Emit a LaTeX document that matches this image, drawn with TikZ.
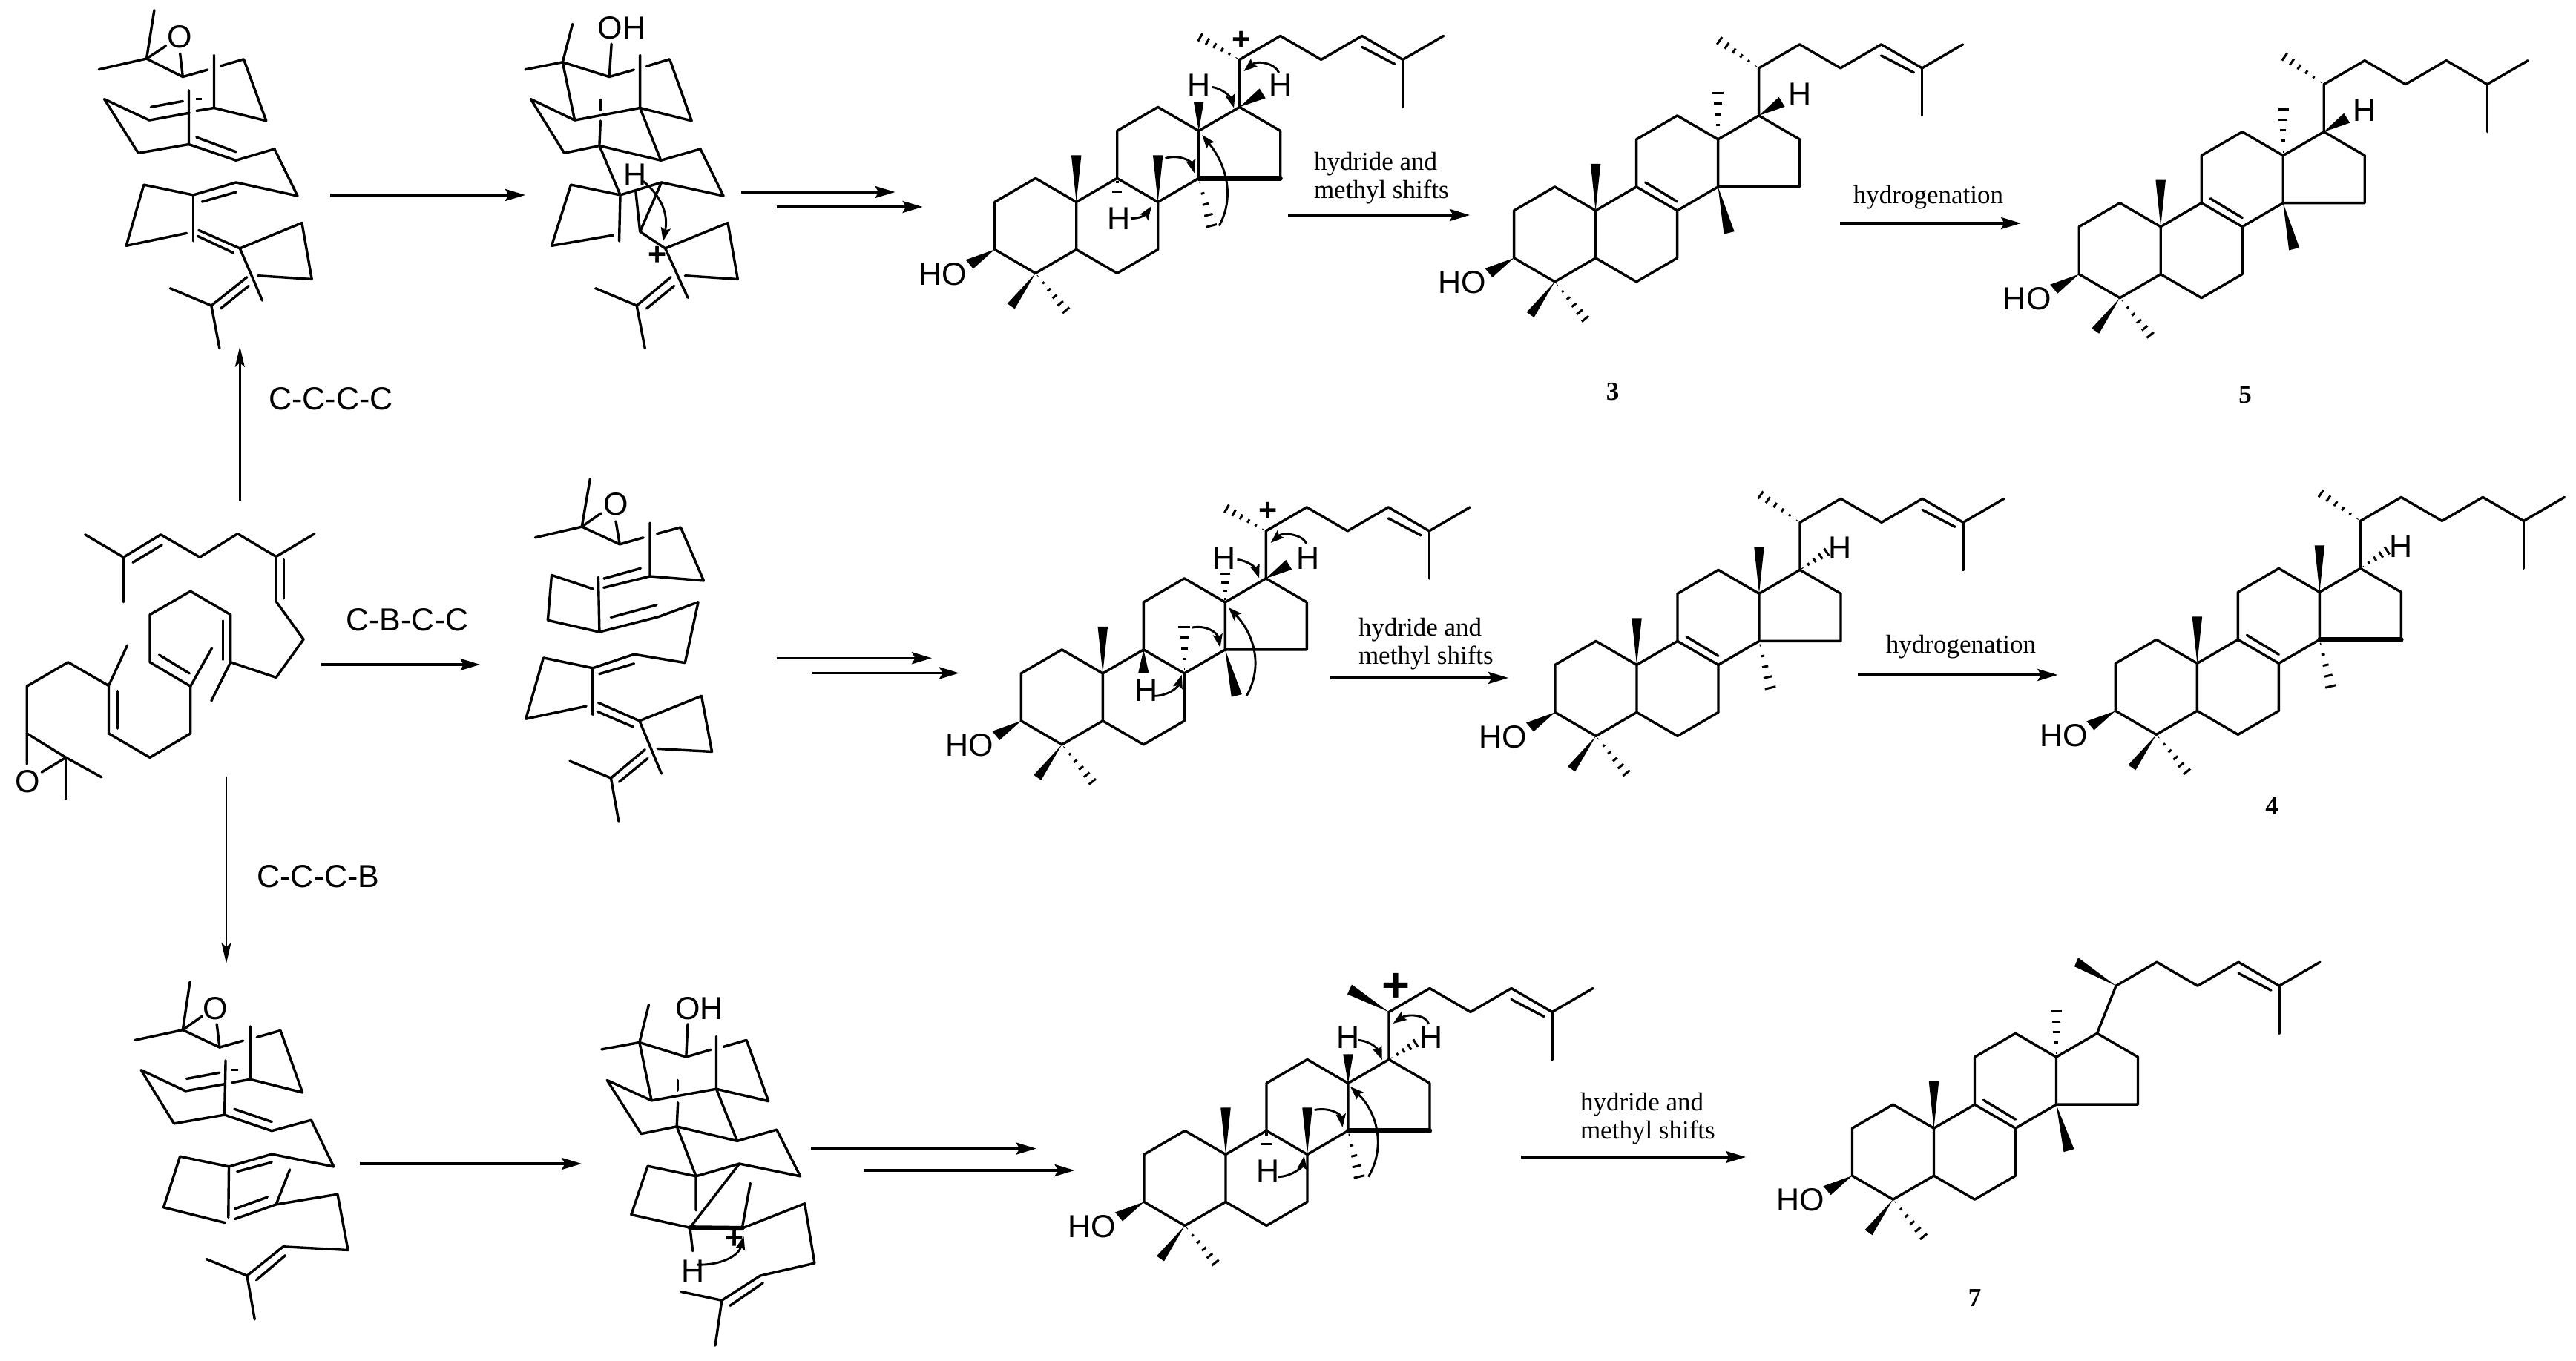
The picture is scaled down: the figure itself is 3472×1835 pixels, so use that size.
\documentclass[tikz,border=0pt]{standalone}
\usepackage{fontspec}
\setmainfont{Liberation Serif}
\setsansfont{Liberation Sans}
\usetikzlibrary{calc,arrows.meta}
\tikzset{
  bond/.style={line width=0.68pt,line cap=round,line join=round},
  boldbond/.style={line width=1.25pt,line cap=round},
  tick/.style={line width=0.6pt},
  rxn/.style={line width=0.68pt,-{Stealth[length=5.4pt,width=3.2pt,inset=0.9pt]}},
  rxnthin/.style={line width=0.4pt,-{Stealth[length=5.6pt,width=2.6pt,inset=1.2pt]}},
  curvearrow/.style={line width=0.58pt,-{Stealth[length=3.6pt,width=2.6pt,inset=0.6pt]}},
  atom/.style={font=\sffamily\fontsize{8.6}{9}\selectfont,inner sep=0pt},
  plussign/.style={font=\sffamily\bfseries\fontsize{8.6}{9}\selectfont,inner sep=0pt},
  bigplus/.style={font=\sffamily\bfseries\fontsize{13}{13}\selectfont,inner sep=0pt},
  cond/.style={font=\rmfamily\fontsize{7}{7.5}\selectfont,inner sep=0pt,align=left},
  cmpd/.style={font=\rmfamily\bfseries\fontsize{7}{8}\selectfont,inner sep=0pt},
  za/.style={x=0.14796pt,y=-0.07908pt},
  zb/.style={x=0.14695pt,y=-0.07908pt},
  zc/.style={x=0.14796pt,y=-0.07843pt},
  zd/.style={x=0.14695pt,y=-0.07843pt},
}
% filled wedge: apex at #1, wide end at #1+(#2,#3), half width #4
\newcommand{\wdg}[4]{%
  \coordinate (wdgtip) at ($(#1)+(#2,#3)$);
  \fill ($(#1)$) -- ($(wdgtip)!#4!90:(#1)$) -- ($(wdgtip)!#4!-90:(#1)$) -- cycle;}
% wedge with explicit corners
\newcommand{\wdgc}[5]{%
  \fill (#1) -- ($(#1)+(#2,#3)$) -- ($(#1)+(#4,#5)$) -- cycle;}
% hashed bond: from #1 to #1+(#2,#3), half width #4 (pt), #5 ticks
\newcommand{\hsh}[5]{%
  \coordinate (hshtip) at ($(#1)+(#2,#3)$);
  \foreach \i in {1,...,#5} {
    \pgfmathsetmacro{\tt}{(\i-0.6)/(#5-0.6)}
    \pgfmathsetmacro{\ww}{\tt*#4}
    \draw[tick] ($(#1)!\tt!(hshtip)!\ww pt!90:(#1)$) -- ($(#1)!\tt!(hshtip)!\ww pt!-90:(#1)$);
  }}
\newcommand{\steroid}[4]{%
  \begin{scope}[shift={(#2,#3)}]
  \coordinate (#1c10) at (0,0);
  \coordinate (#1c5) at (0,64);
  \coordinate (#1c4) at (-55,96);
  \coordinate (#1c3) at (-110,64);
  \coordinate (#1c2) at (-110,0);
  \coordinate (#1c1) at (-55,-32);
  \coordinate (#1c6) at (55,96);
  \coordinate (#1c7) at (110,64);
  \coordinate (#1c8) at (110,0);
  \coordinate (#1c9) at (55,-32);
  \coordinate (#1c11) at (55,-96);
  \coordinate (#1c12) at (110,-128);
  \coordinate (#1c13) at (165,-96);
  \coordinate (#1c14) at (165,-32);
  \coordinate (#1c15) at (275,-32);
  \coordinate (#1c16) at (275,-96);
  \coordinate (#1c17) at (220,-128);
  \coordinate (#1c20) at (220+#4,-192);
  \coordinate (#1c22) at (275+#4,-224);
  \coordinate (#1c23) at (330+#4,-192);
  \coordinate (#1c24) at (385+#4,-224);
  \coordinate (#1c25) at (440+#4,-192);
  \coordinate (#1c26) at (495+#4,-224);
  \coordinate (#1c27) at (440+#4,-128);
  \end{scope}
  \draw[bond] (#1c2)--(#1c1)--(#1c10)--(#1c5)--(#1c4)--(#1c3)--cycle;
  \draw[bond] (#1c5)--(#1c6)--(#1c7)--(#1c8)--(#1c9)--(#1c10);
  \draw[bond] (#1c9)--(#1c11)--(#1c12)--(#1c13)--(#1c14)--(#1c8);
  \draw[bond] (#1c14)--(#1c15)--(#1c16)--(#1c17)--(#1c13);
  \draw[bond] (#1c17)--(#1c20)--(#1c22)--(#1c23)--(#1c24)--(#1c25)--(#1c26);
  \draw[bond] (#1c25)--(#1c27);
  \node[atom] (#1ho) at ($(#1c3)+(-70,33)$) {HO};
  \wdgc{#1c3}{-39}{14}{-29}{26}
  \wdgc{#1c4}{-38}{41}{-28}{48}
  \hsh{#1c4}{41}{50}{1.2}{6}
}
\newcommand{\enechain}[1]{\draw[bond] ($(#1c24)+(0,15)$)--($(#1c25)+(-11,6)$);}
\newcommand{\dbeight}[1]{\draw[bond] ($(#1c9)+(12,-6)$)--($(#1c8)+(0,-12)$);}
\newcommand{\upwedge}[2]{\wdg{#1#2}{0}{-63}{1.35pt}}
\newcommand{\curv}[5]{%
  \coordinate (#1s) at #2; \coordinate (#1e) at #5;
  \draw[curvearrow] (#1s) .. controls #3 and #4 .. (#1e);}
\newcommand{\rxnarrow}[3]{%
  \coordinate (#1s) at #2; \coordinate (#1e) at #3;
  \draw[rxn] (#1s) -- (#1e);}
\begin{document}
\begin{tikzpicture}[x=0.2pt,y=-0.2pt]
\useasboundingbox (0,0) rectangle (3472,1835);
\fill[white] (0,0) rectangle (3472,1835);

%% ---------- steroids, top row ----------
\steroid{a}{1450.7}{272.4}{0}
\enechain{a}
\upwedge{a}{c10} \upwedge{a}{c8}
\wdg{ac13}{0}{-39}{1.35pt}
\draw[boldbond] (ac14)--(ac15);
\wdgc{ac17}{35}{-12}{27}{-25}
\hsh{ac20}{-53}{-30}{1.2}{6}
\hsh{ac9}{0}{18}{1.35}{2}
\hsh{ac14}{17}{64}{1.5}{5}
\node[atom] (ah1) at (1616.4,114.7) {H};
\node[atom] (ah2) at (1726,114.7) {H};
\node[atom] (ah3) at (1507.7,294.6) {H};
\node[plussign] (aplus) at (1672.7,55.4) {+};
\begin{scope}[shift={(1160,0)},za]
\curv{aca}{(640,297)}{(662,303)}{(675,335)}{(680,368)}
\curv{acb}{(762,248)}{(755,215)}{(722,205)}{(698,243)}
\curv{acc}{(492,745)}{(515,745)}{(522,725)}{(530,703)}
\curv{acd}{(555,540)}{(580,525)}{(602,550)}{(608,590)}
\curv{ace}{(653,770)}{(680,680)}{(670,570)}{(622,460)}
\end{scope}

\steroid{b}{2150.6}{283.9}{0}
\enechain{b} \dbeight{b}
\upwedge{b}{c10}
\hsh{bc13}{0}{-62}{1.5}{5}
\wdg{bc14}{15}{62}{1.45pt}
\wdgc{bc17}{35}{-12}{27}{-25}
\hsh{bc20}{-53}{-37}{1.2}{6}
\node[atom] (bh) at (2426.5,126.5) {H};
\node[cmpd] (lab3) at (2173.5,527.9) {3};

\steroid{c}{2912.2}{305.7}{0}
\upwedge{c}{c10}
\hsh{cc13}{0}{-62}{1.5}{5}
\wdg{cc14}{15}{62}{1.45pt}
\dbeight{c}
\wdgc{cc17}{35}{-12}{27}{-25}
\hsh{cc20}{-53}{-37}{1.2}{6}
\node[atom] (ch) at (3187,149) {H};
\node[cmpd] (lab5) at (3026,531.8) {5};

%% ---------- steroids, middle row ----------
\steroid{d}{1486.3}{907.9}{0}
\enechain{d}
\upwedge{d}{c10}
\wdg{dc9}{0}{31}{1.4pt}
\hsh{dc8}{0}{-62}{1.6}{5}
\hsh{dc13}{0}{-38}{1.4}{4}
\wdg{dc14}{15.5}{62}{1.45pt}
\wdgc{dc17}{35}{-12}{27}{-25}
\hsh{dc20}{-53}{-30}{1.2}{6}
\node[atom] (dh1) at (1650.5,752.5) {H};
\node[atom] (dh2) at (1763,752.5) {H};
\node[atom] (dh3) at (1544.7,930.4) {H};
\node[plussign] (dplus) at (1709,690.4) {+};
\begin{scope}[shift={(1160,620)},za]
\curv{dca}{(686,340)}{(708,345)}{(720,370)}{(726,403)}
\curv{dcb}{(812,285)}{(805,255)}{(770,245)}{(747,283)}
\curv{dcc}{(535,805)}{(560,805)}{(578,775)}{(585,733)}
\curv{dcd}{(603,572)}{(630,562)}{(650,590)}{(655,640)}
\curv{dce}{(703,805)}{(735,700)}{(715,590)}{(670,503)}
\end{scope}

\steroid{e}{2206}{896.4}{0}
\enechain{e} \dbeight{e}
\upwedge{e}{c10}
\wdg{ec13}{0}{-63}{1.35pt}
\hsh{ec14}{15}{63}{1.5}{5}
\hsh{ec17}{36}{-24}{1.2}{5}
\hsh{ec20}{-53}{-37}{1.2}{6}
\node[atom] (eh) at (2480,738.6) {H};

\steroid{f}{2961.4}{894.4}{0}
\dbeight{f}
\upwedge{f}{c10}
\wdg{fc13}{0}{-63}{1.35pt}
\draw[boldbond] (fc14)--(fc15);
\hsh{fc14}{15}{63}{1.5}{5}
\hsh{fc17}{36}{-24}{1.2}{5}
\hsh{fc20}{-53}{-37}{1.2}{6}
\node[atom] (fh) at (3236,737) {H};
\node[cmpd] (lab4) at (3062,1087) {4};

%% ---------- steroids, bottom row ----------
\steroid{g}{1652}{1556.5}{0}
\enechain{g}
\upwedge{g}{c10} \upwedge{g}{c8}
\wdg{gc13}{0}{-39}{1.35pt}
\draw[boldbond] (gc14)--(gc15);
\hsh{gc9}{0}{18}{1.35}{2}
\hsh{gc14}{15}{62}{1.5}{5}
\hsh{gc17}{36}{-22}{1.2}{5}
\wdgc{gc20}{-56}{-24}{-50}{-37}
\node[atom] (gh1) at (1817,1399.2) {H};
\node[atom] (gh2) at (1929.4,1398.4) {H};
\node[atom] (gh3) at (1709,1579) {H};
\node[bigplus] (gplus) at (1881.3,1331) {+};
\begin{scope}[shift={(1160,1220)},zc]
\curv{gca}{(907,465)}{(930,470)}{(942,495)}{(950,533)}
\curv{gcb}{(1035,410)}{(1030,375)}{(995,375)}{(970,408)}
\curv{gcc}{(760,935)}{(785,935)}{(805,900)}{(808,863)}
\curv{gcd}{(827,705)}{(855,695)}{(875,720)}{(878,765)}
\curv{gce}{(925,935)}{(958,830)}{(940,710)}{(892,625)}
\end{scope}

\steroid{h}{2606.5}{1521.2}{25.5}
\enechain{h} \dbeight{h}
\upwedge{h}{c10}
\hsh{hc13}{0}{-62}{1.5}{5}
\wdg{hc14}{17}{62}{1.45pt}
\wdgc{hc20}{-56}{-26}{-51}{-38}
\node[cmpd] (lab7) at (2661.6,1750) {7};

%% ---------- folded chains, top left ----------
\begin{scope}[za]
\draw[bond] (281,35)--(267,200)--(333,262)--(378,238);
\draw[bond] (180,237)--(267,200)--(302,157);
\draw[bond] (333,262)--(328,182);
\node[atom] (to) at (327,125) {O};
\draw[bond] (402,225)--(444,202)--(485,412)--(390,368)--(390,188);
\draw[bond] (390,368)--(358,378);
\draw[bond] (345,385)--(272,410)--(190,338)--(252,522)--(344,492)--(344,308);
\draw[bond] (344,492)--(430,547)--(500,508)--(542,668)--(430,622)--(352,665)--(262,630)--(230,838)--(340,795);
\draw[bond] (358,468)--(430,518);
\draw[bond] (275,365)--(333,345);
\fill (357,335) rectangle (368,341);
\draw[bond] (368,688)--(430,655);
\draw[bond] (352,665)--(352,822);
\draw[bond] (362,785)--(437,847)--(550,760)--(568,952)--(470,940);
\draw[bond] (360,805)--(425,862);
\draw[bond] (437,847)--(478,1025);
\draw[bond] (450,945)--(385,1042)--(310,983);
\draw[bond] (385,1042)--(400,1188);
\draw[bond] (402,1052)--(453,975);

\draw[bond] (1043,82)--(1025,212)--(1110,262)--(1155,238);
\draw[bond] (957,237)--(1025,212);
\draw[bond] (1110,262)--(1114,150);
\node[atom] (toh) at (1133,95) {OH};
\draw[bond] (1178,226)--(1220,202)--(1260,412)--(1166,368)--(1166,188);
\draw[bond] (1166,368)--(1047,410)--(1025,212);
\draw[bond] (1047,410)--(967,338)--(1028,522)--(1092,497)--(1094,412);
\draw[bond] (1094,340)--(1094,375);
\draw[bond] (1092,497)--(1204,547)--(1276,508)--(1318,668)--(1205,622)--(1130,665)--(1040,630)--(1005,838)--(1117,802);
\draw[bond] (1166,368)--(1204,547);
\draw[bond] (1092,497)--(1130,665)--(1128,822);
\draw[bond] (1205,622)--(1166,790)--(1212,847)--(1326,760)--(1344,952)--(1248,940);
\draw[bond] (1166,790)--(1158,650);
\node[atom] (th) at (1157,595) {H};
\draw[bond] (1212,847)--(1253,1015);
\draw[bond] (1222,945)--(1160,1042)--(1085,983);
\draw[bond] (1160,1042)--(1175,1188);
\draw[bond] (1178,1052)--(1228,975);
\node[plussign] (tplus) at (1198,872) {+};
\curv{tca}{(1172,618)}{(1205,670)}{(1218,730)}{(1208,822)}
\end{scope}

%% ---------- linear precursor and middle folded chain ----------
\begin{scope}[shift={(0,620)},za]
\draw[bond] (155,255)--(225,332)--(293,255)--(364,332)--(433,252)--(503,330)--(573,252);
\draw[bond] (242,350)--(295,290);
\draw[bond] (225,332)--(225,485);
\draw[bond] (503,330)--(503,483)--(553,612)--(503,742)--(420,690)--(420,528)--(347,448)--(273,528)--(273,690)--(347,772)--(386,642);
\draw[bond] (517,340)--(517,472);
\draw[bond] (406,548)--(406,682);
\draw[bond] (420,690)--(385,822);
\draw[bond] (290,665)--(345,728);
\draw[bond] (347,772)--(347,933)--(273,1015)--(198,933)--(198,770)--(232,632);
\draw[bond] (214,788)--(214,916);
\draw[bond] (198,770)--(124,690)--(49,772)--(49,933)--(49,1037);
\node[atom] (po) at (50,1097) {O};
\draw[bond] (49,933)--(120,1015)--(76,1065);
\draw[bond] (120,1015)--(185,1082);
\draw[bond] (120,1015)--(120,1157);

\draw[bond] (1075,65)--(1060,228)--(1129,288)--(1172,265);
\draw[bond] (975,265)--(1060,228)--(1095,182);
\node[atom] (mo) at (1122,152) {O};
\draw[bond] (1122,210)--(1129,288);
\draw[bond] (1197,252)--(1240,230)--(1282,412)--(1184,397)--(1184,215);
\draw[bond] (1184,397)--(1100,436);
\draw[bond] (1100,405)--(1167,370);
\draw[bond] (1090,400)--(1092,587);
\draw[bond] (1080,440)--(1005,393)--(998,547)--(1092,587)--(1200,535)--(1272,485)--(1248,692)--(1155,663)--(1080,710)--(990,675)--(958,883)--(1068,840);
\draw[bond] (1113,537)--(1196,495);
\draw[bond] (1092,730)--(1155,695);
\draw[bond] (1080,710)--(1080,868);
\draw[bond] (1090,828)--(1165,890)--(1278,805)--(1297,995)--(1198,985);
\draw[bond] (1088,858)--(1153,910);
\draw[bond] (1165,890)--(1205,1070);
\draw[bond] (1175,988)--(1113,1085)--(1038,1027);
\draw[bond] (1113,1085)--(1127,1232);
\draw[bond] (1128,1098)--(1180,1018);
\end{scope}

%% ---------- folded chains, bottom left ----------
\begin{scope}[shift={(0,1220)},zc]
\draw[bond] (346,265)--(333,430)--(400,490)--(443,467);
\draw[bond] (246,465)--(333,430)--(368,383);
\node[atom] (bo) at (392,355) {O};
\draw[bond] (395,410)--(400,490);
\draw[bond] (468,455)--(511,432)--(551,645)--(456,600)--(456,418);
\draw[bond] (456,600)--(423,611);
\draw[bond] (410,616)--(338,640)--(257,568)--(317,752)--(409,722)--(411,535);
\draw[bond] (409,722)--(495,777)--(567,740)--(608,900)--(495,857)--(417,900)--(328,865)--(298,1040)--(410,1093);
\draw[bond] (427,702)--(495,746);
\draw[bond] (340,598)--(400,577);
\fill (422,564) rectangle (434,570);
\draw[bond] (432,917)--(495,885);
\draw[bond] (417,900)--(416,1075);
\draw[bond] (428,1080)--(503,1030)--(615,995)--(634,1187)--(516,1175)--(450,1275)--(376,1218);
\draw[bond] (428,1045)--(487,1005);
\draw[bond] (503,1030)--(528,910);
\draw[bond] (467,1290)--(520,1205);
\draw[bond] (450,1275)--(464,1425);

\draw[bond] (1182,343)--(1165,473)--(1250,523)--(1295,498);
\draw[bond] (1096,497)--(1165,473);
\draw[bond] (1250,523)--(1253,410);
\node[atom] (boh) at (1274,355) {OH};
\draw[bond] (1318,488)--(1360,465)--(1400,675)--(1305,633)--(1305,452);
\draw[bond] (1305,633)--(1187,673)--(1165,473);
\draw[bond] (1187,673)--(1106,603)--(1168,787)--(1233,762)--(1235,680);
\draw[bond] (1235,603)--(1235,638);
\draw[bond] (1233,762)--(1343,812)--(1415,773)--(1458,933)--(1347,890)--(1268,933)--(1180,898)--(1150,1065)--(1257,1110);
\draw[bond] (1305,633)--(1343,812);
\draw[bond] (1233,762)--(1268,933)--(1268,1050);
\draw[bond] (1347,890)--(1257,1110)--(1262,1190);
\draw[boldbond] (1257,1110)--(1352,1112);
\draw[bond] (1367,957)--(1352,1112)--(1466,1027)--(1484,1232)--(1385,1275)--(1315,1360)--(1241,1330);
\draw[bond] (1330,1378)--(1390,1300);
\draw[bond] (1315,1360)--(1303,1515);
\node[plussign] (bplus) at (1338,1150) {+};
\node[atom] (bh2) at (1263,1260) {H};
\curv{bca}{(1270,1237)}{(1310,1240)}{(1345,1210)}{(1355,1140)}
\end{scope}

%% ---------- reaction arrows ----------
\coordinate (ups) at (323.3,675.4); \coordinate (upe) at (323.3,467);
\draw[rxnthin,line width=0.5pt] (ups) -- (upe);
\coordinate (dns) at (305,1047); \coordinate (dne) at (305,1299);
\draw[rxnthin] (dns) -- (dne);
\rxnarrow{r1}{(445,263)}{(708,263)}
\rxnarrow{r2}{(999,259)}{(1206.6,259)}
\rxnarrow{r3}{(1047,279)}{(1243.6,279)}
\rxnarrow{r4}{(1735.6,290)}{(1981,290)}
\rxnarrow{r5}{(2479.5,301)}{(2724,301)}
\rxnarrow{r6}{(432.8,896)}{(647.3,896)}
\rxnarrow{r7}{(1046.9,887.3)}{(1256,887.3)}
\rxnarrow{r8}{(1095,907.5)}{(1293,907.5)}
\rxnarrow{r9}{(1792.5,914)}{(2033,914)}
\rxnarrow{r10}{(2503.7,910)}{(2773.4,910)}
\rxnarrow{r11}{(484.6,1569)}{(784,1569)}
\rxnarrow{r12}{(1093.4,1548.6)}{(1396.7,1548.6)}
\rxnarrow{r13}{(1163.7,1578)}{(1448.5,1578)}
\rxnarrow{r14}{(2050,1560)}{(2353,1560)}

%% ---------- texts ----------
\node[atom] (t1) at (446,538) {C-C-C-C};
\node[atom] (t2) at (549,835.5) {C-B-C-C};
\node[atom] (t3) at (429,1182) {C-C-C-B};
\node[cond,anchor=west] (t4) at (1770,240) {hydride and\\methyl shifts};
\node[cond,anchor=west] (t5) at (1830,868) {hydride and\\methyl shifts};
\node[cond,anchor=west] (t6) at (2129,1508) {hydride and\\methyl shifts};
\node[cond] (t7) at (2599,266) {hydrogenation};
\node[cond] (t8) at (2643,872) {hydrogenation};
\end{tikzpicture}
\end{document}
